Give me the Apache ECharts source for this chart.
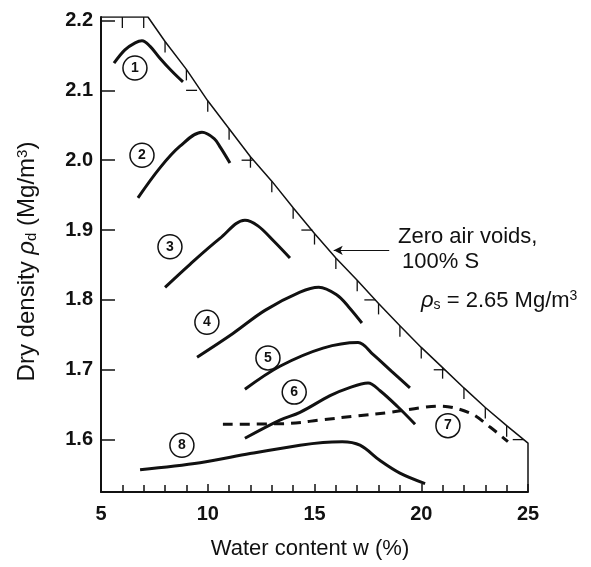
<!DOCTYPE html>
<html>
<head>
<meta charset="utf-8">
<style>
  html, body { margin: 0; padding: 0; background: #fff; }
  #chart { width: 591px; height: 567px; }
</style>
<script src="https://cdn.jsdelivr.net/npm/echarts@6/dist/echarts.min.js"></script>
</head>
<body>
<div id="chart"></div>
<script>
// compaction curves, [w %, dry density Mg/m3]
const curve1 = [[5.61, 2.139], [6.12, 2.158], [6.6, 2.168], [6.92, 2.171], [7.3, 2.163], [7.76, 2.146], [8.3, 2.128], [8.84, 2.112]]
const curve2 = [[6.73, 1.946], [7.76, 1.989], [8.7, 2.02], [9.73, 2.04], [10.3, 2.031], [10.6, 2.018], [11.04, 1.996]]
const curve3 = [[8.0, 1.818], [9.17, 1.851], [10.57, 1.888], [11.74, 1.914], [12.35, 1.906], [13.1, 1.884], [13.85, 1.86]]
const curve4 = [[9.5, 1.718], [11.18, 1.752], [12.68, 1.785], [14.32, 1.811], [15.2, 1.818], [16.05, 1.807], [16.6, 1.79], [17.22, 1.767]]
const curve5 = [[11.74, 1.672], [13.38, 1.705], [15.4, 1.731], [17.04, 1.739], [17.74, 1.722], [18.6, 1.698], [19.47, 1.674]]
const curve6 = [[11.74, 1.602], [13.38, 1.628], [14.32, 1.639], [15.73, 1.663], [16.52, 1.673], [17.51, 1.681], [18.07, 1.67], [18.9, 1.647], [19.71, 1.622]]
const curve7 = [[10.71, 1.622], [13.71, 1.623], [15.26, 1.628], [16.99, 1.634], [18.54, 1.639], [20.08, 1.646], [20.88, 1.648], [22.28, 1.638], [23.22, 1.618], [24.06, 1.597]]
const curve8 = [[6.83, 1.557], [9.64, 1.567], [11.98, 1.58], [14.32, 1.592], [15.4, 1.596], [16.3, 1.597], [17.13, 1.592], [18.07, 1.57], [19.0, 1.552], [20.18, 1.537]]

// zero air voids line (100% saturation) plus the top and right edges of the frame
const zavLine = [[5, 2.205], [6, 2.205], [7, 2.205], [7.2, 2.205], [8, 2.17], [9, 2.13], [10, 2.085], [11, 2.045],
  [12, 2.005], [13, 1.97], [14, 1.932], [15, 1.895], [16, 1.86], [17, 1.828], [18, 1.795], [19, 1.763],
  [20, 1.732], [21, 1.703], [22, 1.674], [23, 1.646], [24, 1.62], [25, 1.595], [25, 1.525]]
const zavTickW = [6, 7, 8, 9, 10, 11, 12, 13, 14, 15, 16, 17, 18, 19, 20, 21, 22, 23, 24]
const zavTickRho = [[9.5, 2.1], [12.1, 2.0], [14.9, 1.9], [17.85, 1.8], [21.1, 1.7], [24.8, 1.6]]

// circled curve numbers
const curveNames = ['1', '2', '3', '4', '5', '6', '7', '8']
const labelPos = [[6.59, 2.132], [6.92, 2.007], [8.23, 1.876], [9.96, 1.768], [12.82, 1.717], [14.05, 1.668], [21.25, 1.62], [8.79, 1.592]]

const yTicks = [1.6, 1.7, 1.8, 1.9, 2.0, 2.1, 2.2]
const arrow = [[18.5, 1.871], [15.9, 1.871]]

const ink = '#111'
const font = '"Liberation Sans", Arial, sans-serif'

const chart = echarts.init(document.getElementById('chart'))

const curveSeries = [curve1, curve2, curve3, curve4, curve5, curve6, curve7, curve8].map((d, i) => ({
  name: 'Curve ' + curveNames[i],
  type: 'line',
  data: d,
  smooth: 0.35,
  symbol: 'none',
  lineStyle: { color: ink, width: 3, type: i === 6 ? [10, 7] : 'solid' },
  z: 3
}))

const option = {
  animation: false,
  backgroundColor: '#fff',
  textStyle: { fontFamily: font },
  grid: { left: 101, right: 63, top: 17, bottom: 75 },
  xAxis: {
    type: 'value',
    min: 5,
    max: 25,
    interval: 5,
    name: 'Water content w (%)',
    nameLocation: 'middle',
    nameGap: 46,
    nameTextStyle: { fontSize: 22, color: ink, fontFamily: font, padding: [0, 9, 0, 0] },
    axisLine: { lineStyle: { color: ink, width: 2 } },
    axisTick: { inside: true, length: 8, lineStyle: { color: ink, width: 1.5 } },
    minorTick: { show: true, splitNumber: 5, length: 7, lineStyle: { color: ink, width: 1.5 } },
    axisLabel: { fontSize: 20, fontWeight: 'bold', color: ink, fontFamily: font, margin: 12 },
    splitLine: { show: false }
  },
  yAxis: {
    type: 'value',
    min: 1.525,
    max: 2.205,
    name: 'Dry density {i|ρ}{sub|d} (Mg/m{sup|3})',
    nameLocation: 'middle',
    nameGap: 62,
    nameTextStyle: {
      fontSize: 24, color: ink, fontFamily: font, padding: [0, 14, 0, 0],
      rich: {
        i: { fontSize: 24, fontStyle: 'italic', color: ink, fontFamily: font },
        sub: { fontSize: 15, color: ink, verticalAlign: 'bottom', fontFamily: font, padding: [8, 0, 0, 0] },
        sup: { fontSize: 15, color: ink, verticalAlign: 'top', fontFamily: font, padding: [0, 0, 8, 0] }
      }
    },
    axisLine: { show: true, lineStyle: { color: ink, width: 2 } },
    axisTick: { show: true, inside: true, length: 14, customValues: yTicks, lineStyle: { color: ink, width: 1.5 } },
    axisLabel: {
      fontSize: 20, fontWeight: 'bold', color: ink, fontFamily: font, margin: 8,
      customValues: yTicks,
      formatter: v => v.toFixed(1)
    },
    splitLine: { show: false }
  },
  graphic: [
    { type: 'text', left: 398, top: 226, style: { text: 'Zero air voids,', font: '22px ' + font, fill: ink } },
    { type: 'text', left: 402, top: 251, style: { text: '100% S', font: '22px ' + font, fill: ink } },
    {
      type: 'text', left: 421, top: 289,
      style: {
        text: '{i|ρ}{sub|s} = 2.65 Mg/m{sup|3}',
        font: '22px ' + font, fill: ink,
        rich: {
          i: { fontSize: 22, fontStyle: 'italic', fill: ink, fontFamily: font },
          sub: { fontSize: 14, fill: ink, fontFamily: font, verticalAlign: 'bottom', padding: [9, 0, 0, 0] },
          sup: { fontSize: 14, fill: ink, fontFamily: font, verticalAlign: 'top', padding: [0, 0, 9, 0] }
        }
      }
    }
  ],
  series: [
    {
      name: 'Zero air voids',
      type: 'line',
      data: zavLine,
      symbol: 'none',
      lineStyle: { color: ink, width: 1.5 },
      z: 2,
      markLine: {
        silent: true,
        symbol: ['none', 'arrow'],
        symbolSize: [7, 9],
        label: { show: false },
        lineStyle: { color: ink, width: 1, type: 'solid' },
        data: [[{ coord: arrow[0] }, { coord: arrow[1] }]]
      }
    },
    {
      name: 'ZAV w ticks',
      type: 'custom',
      data: zavTickW.map(w => zavLine.find(p => p[0] === w)),
      renderItem: (params, api) => {
        const p = api.coord([api.value(0), api.value(1)])
        return { type: 'line', shape: { x1: p[0], y1: p[1], x2: p[0], y2: p[1] + 11 }, style: { stroke: ink, lineWidth: 1.3 } }
      },
      z: 2
    },
    {
      name: 'ZAV rho ticks',
      type: 'custom',
      data: zavTickRho,
      renderItem: (params, api) => {
        const p = api.coord([api.value(0), api.value(1)])
        return { type: 'line', shape: { x1: p[0] - 11, y1: p[1], x2: p[0], y2: p[1] }, style: { stroke: ink, lineWidth: 1.3 } }
      },
      z: 2
    },
    ...curveSeries,
    {
      name: 'Curve numbers',
      type: 'scatter',
      data: labelPos.map((p, i) => ({ value: p, name: curveNames[i] })),
      symbol: 'circle',
      symbolSize: 24,
      itemStyle: { color: '#fff', borderColor: ink, borderWidth: 1.5, opacity: 1 },
      label: { show: true, position: 'inside', formatter: p => p.name, fontSize: 14, fontWeight: 'bold', color: ink, fontFamily: font },
      z: 4
    }
  ]
}

chart.setOption(option)
</script>
</body>
</html>
